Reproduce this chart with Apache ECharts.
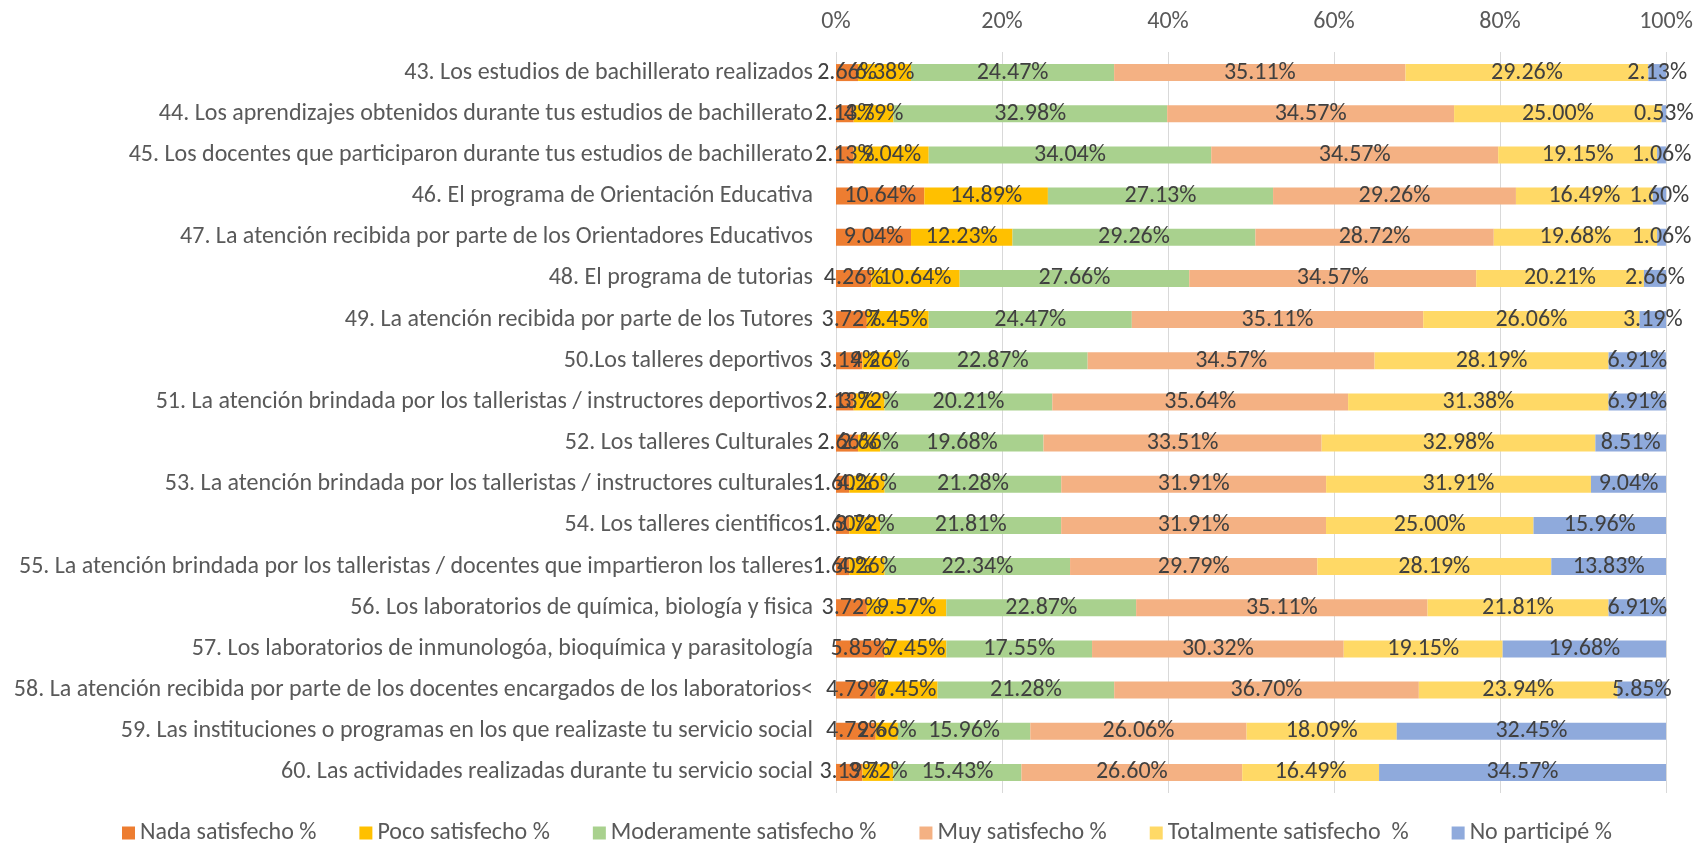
<!DOCTYPE html>
<html>
<head>
<meta charset="utf-8">
<script src="https://cdn.jsdelivr.net/npm/echarts@6/dist/echarts.min.js"></script>
<style>
  html, body { margin: 0; padding: 0; background: #ffffff; }
  #chart { width: 1705px; height: 844px; }
</style>
</head>
<body>
<div id="chart"></div>
<script>
// Survey items (top to bottom)
const categories = [
  '43. Los estudios de bachillerato realizados',
  '44. Los aprendizajes obtenidos durante tus estudios de bachillerato',
  '45. Los docentes que participaron durante tus estudios de bachillerato',
  '46. El programa de Orientación Educativa',
  '47. La atención recibida por parte de los Orientadores Educativos',
  '48. El programa de tutorias',
  '49. La atención recibida por parte de los Tutores',
  '50.Los talleres deportivos',
  '51. La atención brindada por los talleristas / instructores deportivos',
  '52. Los talleres Culturales',
  '53. La atención brindada por los talleristas / instructores culturales',
  '54. Los talleres cientificos',
  '55. La atención brindada por los talleristas / docentes que impartieron los talleres',
  '56. Los laboratorios de química, biología y fisica',
  '57. Los laboratorios de inmunologóa, bioquímica y parasitología',
  '58. La atención recibida por parte de los docentes encargados de los laboratorios<',
  '59. Las instituciones o programas en los que realizaste tu servicio social',
  '60. Las actividades realizadas durante tu servicio social'
];

const seriesNames = [
  'Nada satisfecho %',
  'Poco satisfecho %',
  'Moderamente satisfecho %',
  'Muy satisfecho %',
  'Totalmente satisfecho  %',
  'No participé %'
];

// Percentages per answer, one value per item
const nada        = [2.66, 2.13, 2.13, 10.64, 9.04, 4.26, 3.72, 3.19, 2.13, 2.66, 1.60, 1.60, 1.60, 3.72, 5.85, 4.79, 4.79, 3.19];
const poco        = [6.38, 4.79, 9.04, 14.89, 12.23, 10.64, 7.45, 4.26, 3.72, 2.66, 4.26, 3.72, 4.26, 9.57, 7.45, 7.45, 2.66, 3.72];
const moderado    = [24.47, 32.98, 34.04, 27.13, 29.26, 27.66, 24.47, 22.87, 20.21, 19.68, 21.28, 21.81, 22.34, 22.87, 17.55, 21.28, 15.96, 15.43];
const muy         = [35.11, 34.57, 34.57, 29.26, 28.72, 34.57, 35.11, 34.57, 35.64, 33.51, 31.91, 31.91, 29.79, 35.11, 30.32, 36.70, 26.06, 26.60];
const totalmente  = [29.26, 25.00, 19.15, 16.49, 19.68, 20.21, 26.06, 28.19, 31.38, 32.98, 31.91, 25.00, 28.19, 21.81, 19.15, 23.94, 18.09, 16.49];
const noParticipe = [2.13, 0.53, 1.06, 1.60, 1.06, 2.66, 3.19, 6.91, 6.91, 8.51, 9.04, 15.96, 13.83, 6.91, 19.68, 5.85, 32.45, 34.57];

const axisTicks = [0, 20, 40, 60, 80, 100];

const values = [nada, poco, moderado, muy, totalmente, noParticipe];
const colors = ['#ED7D31', '#FFC000', '#A9D18E', '#F4B183', '#FFD966', '#8FAADC'];

const FONT = "'Carlito', 'Liberation Sans Narrow', 'Open Sans', sans-serif";
const FONT_SIZE = 24;

const chart = echarts.init(document.getElementById('chart'), null, { renderer: 'canvas' });

chart.setOption({
  animation: false,
  backgroundColor: '#ffffff',
  textStyle: { fontFamily: FONT },
  grid: { left: 836, right: 39, top: 52, bottom: 51, containLabel: false },
  legend: {
    top: 821,
    left: 122,
    padding: 0,
    itemWidth: 13,
    itemHeight: 13,
    itemGap: 43,
    icon: 'rect',
    textStyle: { color: '#595959', fontSize: FONT_SIZE, fontFamily: FONT },
    data: seriesNames
  },
  xAxis: {
    type: 'value',
    position: 'top',
    min: axisTicks[0],
    max: axisTicks[axisTicks.length - 1],
    interval: axisTicks[1] - axisTicks[0],
    axisLine: { show: false },
    axisTick: { show: false },
    axisLabel: {
      color: '#595959',
      fontSize: FONT_SIZE,
      fontFamily: FONT,
      margin: 18,
      formatter: v => v + '%'
    },
    splitLine: { show: true, lineStyle: { color: '#D9D9D9', width: 1 } }
  },
  yAxis: {
    type: 'category',
    inverse: true,
    data: categories,
    axisLine: { show: false },
    axisTick: { show: false },
    axisLabel: {
      color: '#595959',
      fontSize: FONT_SIZE,
      fontFamily: FONT,
      margin: 23
    }
  },
  series: seriesNames.map((name, i) => ({
    name: name,
    type: 'bar',
    stack: 'total',
    barWidth: 17,
    itemStyle: { color: colors[i] },
    label: {
      show: true,
      position: 'inside',
      color: '#404040',
      fontSize: FONT_SIZE,
      fontFamily: FONT,
      formatter: p => p.value.toFixed(2) + '%'
    },
    emphasis: { disabled: true },
    data: values[i]
  }))
});
</script>
</body>
</html>
